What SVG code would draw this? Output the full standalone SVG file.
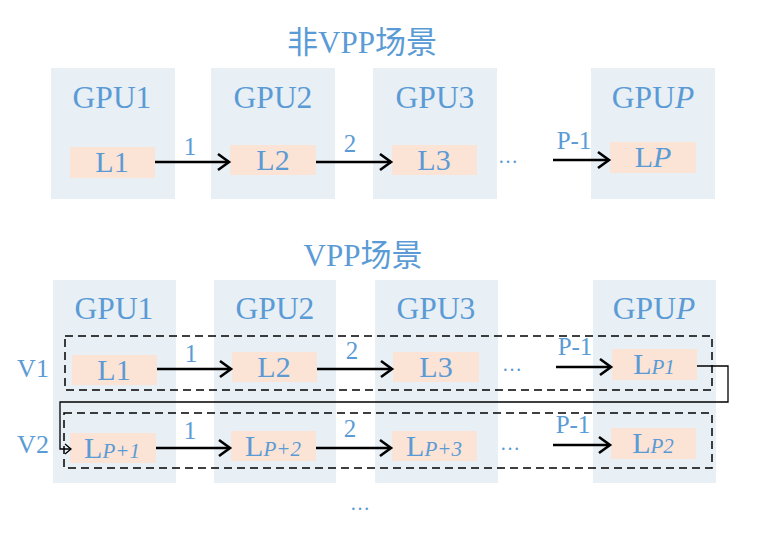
<svg xmlns="http://www.w3.org/2000/svg" width="777" height="546" viewBox="0 0 777 546">
<defs>
<style>
.gpu{fill:#e8eff5}
.lay{fill:#fbe3d6}
.t{font-family:"Liberation Serif","Noto Sans CJK SC",serif;fill:#5b9bd5;text-anchor:middle}
.title{font-size:31px}
.g{font-size:31.5px}
.l{font-size:30px}
.s{font-size:21px;font-style:italic}
.n{font-size:25px}
.d{font-size:20px}
.v{font-size:26px}
.arr{stroke:#000;stroke-width:2.6;fill:none;marker-end:url(#ah)}
.dash{stroke:#000;stroke-width:1.5;fill:none;stroke-dasharray:8 5}
.wrap{stroke:#000;stroke-width:1.3;fill:none;marker-end:url(#ah2)}
</style>
<marker id="ah" markerUnits="userSpaceOnUse" markerWidth="20" markerHeight="20" refX="0" refY="0" viewBox="-14 -10 16 20" orient="auto">
<path d="M-11,-8 L0,0 L-11,8" stroke="#000" stroke-width="2.6" fill="none"/>
</marker>
<marker id="ah2" markerUnits="userSpaceOnUse" markerWidth="12" markerHeight="12" refX="0" refY="0" viewBox="-8 -6 10 12" orient="auto">
<path d="M-6,-5 L0,0 L-6,5" stroke="#000" stroke-width="1.3" fill="none"/>
</marker>
</defs>

<text class="t title" x="362" y="53">非VPP场景</text>
<text class="t title" x="363" y="266">VPP场景</text>

<!-- top section -->
<g id="top-gpu1"><rect class="gpu" x="51" y="68" width="124" height="131"/><text class="t g" x="112" y="108">GPU1</text></g>
<g id="top-gpu2"><rect class="gpu" x="211" y="68" width="124" height="131"/><text class="t g" x="273" y="108">GPU2</text></g>
<g id="top-gpu3"><rect class="gpu" x="373" y="68" width="124" height="131"/><text class="t g" x="435" y="108">GPU3</text></g>
<g id="top-gpup"><rect class="gpu" x="591" y="68" width="124" height="131"/><text class="t g" x="653" y="108">GPU<tspan font-style="italic">P</tspan></text></g>

<g id="top-l1"><rect class="lay" x="70" y="147" width="85" height="31"/><text class="t l" x="112" y="172">L1</text></g>
<g id="top-l2"><rect class="lay" x="230" y="145" width="86" height="30"/><text class="t l" x="273" y="170">L2</text></g>
<g id="top-l3"><rect class="lay" x="392" y="145" width="85" height="30"/><text class="t l" x="434" y="170">L3</text></g>
<g id="top-lp"><rect class="lay" x="610" y="142" width="86" height="31"/><text class="t l" x="653" y="167">L<tspan font-style="italic">P</tspan></text></g>

<!-- bottom section -->
<g id="bot-gpu1"><rect class="gpu" x="53" y="280" width="123" height="203"/><text class="t g" x="114" y="319">GPU1</text></g>
<g id="bot-gpu2"><rect class="gpu" x="214" y="280" width="122" height="203"/><text class="t g" x="275" y="319">GPU2</text></g>
<g id="bot-gpu3"><rect class="gpu" x="375" y="280" width="123" height="203"/><text class="t g" x="436" y="319">GPU3</text></g>
<g id="bot-gpup"><rect class="gpu" x="593" y="280" width="123" height="203"/><text class="t g" x="654" y="319">GPU<tspan font-style="italic">P</tspan></text></g>

<g id="bot-l1"><rect class="lay" x="72" y="355" width="85" height="30"/><text class="t l" x="114" y="380">L1</text></g>
<g id="bot-l2"><rect class="lay" x="232" y="352" width="85" height="30"/><text class="t l" x="274" y="377">L2</text></g>
<g id="bot-l3"><rect class="lay" x="393" y="352" width="86" height="30"/><text class="t l" x="436" y="377">L3</text></g>
<g id="bot-lp1"><rect class="lay" x="612" y="349" width="85" height="31"/><text class="t l" x="654" y="374">L<tspan class="s">P1</tspan></text></g>

<g id="bot-lp+1"><rect class="lay" x="70" y="433" width="86" height="30"/><text class="t l" x="112" y="458">L<tspan class="s">P+1</tspan></text></g>
<g id="bot-lp+2"><rect class="lay" x="231" y="431" width="85" height="30"/><text class="t l" x="273" y="456">L<tspan class="s">P+2</tspan></text></g>
<g id="bot-lp+3"><rect class="lay" x="392" y="431" width="85" height="30"/><text class="t l" x="434" y="456">L<tspan class="s">P+3</tspan></text></g>
<g id="bot-lp2"><rect class="lay" x="611" y="428" width="85" height="31"/><text class="t l" x="653" y="453">L<tspan class="s">P2</tspan></text></g>

<g id="v1"><rect class="dash" x="65" y="336" width="647" height="54"/><text class="t v" x="33" y="377">V1</text></g>
<g id="v2"><rect class="dash" x="64" y="413" width="648" height="55"/><text class="t v" x="33" y="453">V2</text></g>

<g id="connectors">
<path class="arr" d="M155,162 H229"/>
<path class="arr" d="M316,162 H391"/>
<path class="arr" d="M553,160 H609"/>
<path class="arr" d="M157,369 H231"/>
<path class="arr" d="M317,369 H392"/>
<path class="arr" d="M556,367 H611"/>
<path class="arr" d="M156,448 H230"/>
<path class="arr" d="M316,448 H391"/>
<path class="arr" d="M553,445 H610"/>
<path class="wrap" d="M697,366 H728 V402 H60 V449 H71"/>
</g>

<g id="labels">
<text class="t n" x="190" y="155">1</text>
<text class="t n" x="350" y="152">2</text>
<text class="t n" x="574" y="149">P-1</text>
<text class="t d" x="508" y="163">…</text>
<text class="t n" x="191" y="362">1</text>
<text class="t n" x="352" y="359">2</text>
<text class="t n" x="575" y="355">P-1</text>
<text class="t d" x="512" y="371">…</text>
<text class="t n" x="190" y="439">1</text>
<text class="t n" x="350" y="437">2</text>
<text class="t n" x="573" y="433">P-1</text>
<text class="t d" x="510" y="450">…</text>
<text class="t d" x="360" y="510">…</text>
</g>
</svg>
